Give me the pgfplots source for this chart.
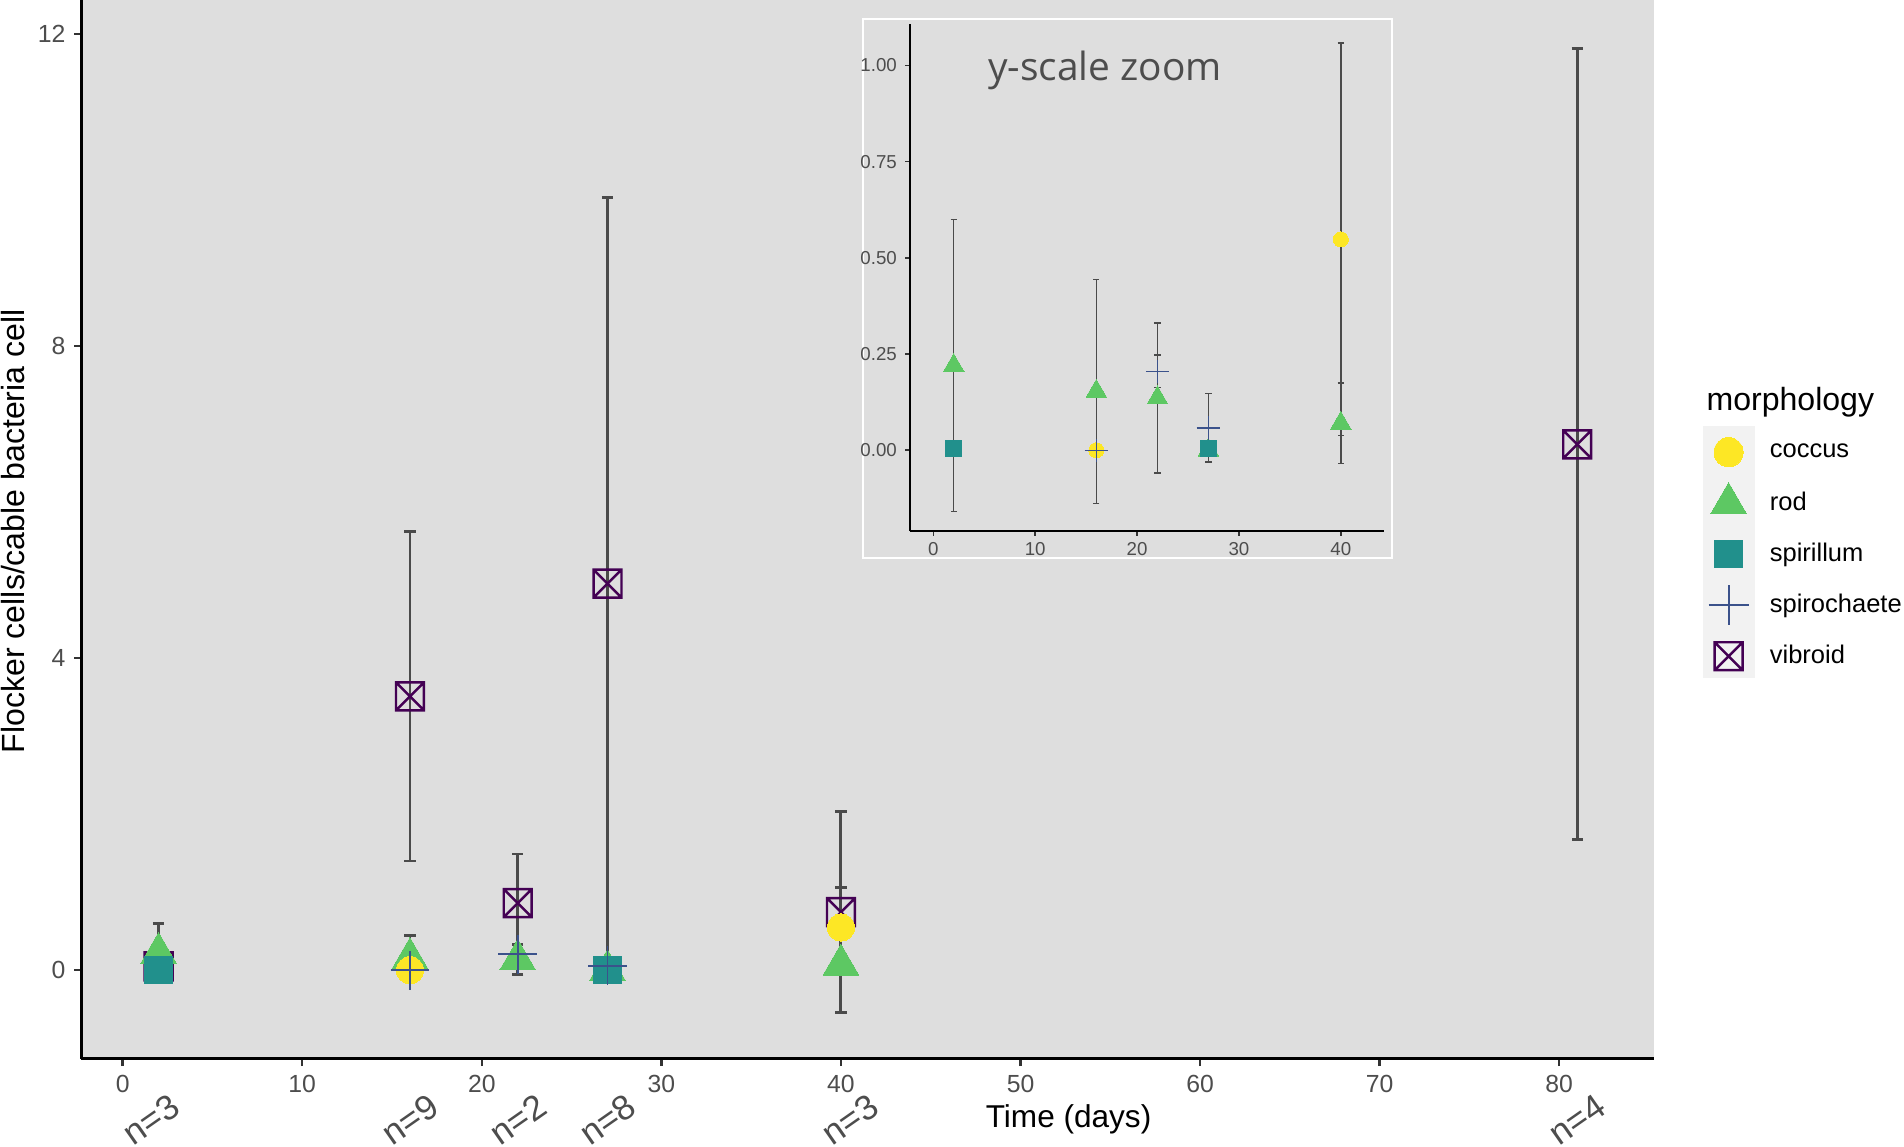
\documentclass[border=0pt]{standalone}
\usepackage{fontspec}
\setmainfont{Liberation Sans}
\newfontfamily\insetfont{Open Sans}
\usepackage{pgfplots}
\pgfplotsset{compat=1.18}
\usepackage{pgfplotstable}

\definecolor{panelgray}{HTML}{DEDEDE}
\definecolor{keygray}{HTML}{F2F2F2}
\definecolor{labgray}{HTML}{4D4D4D}
\definecolor{tickgray}{HTML}{333333}
\definecolor{errgray}{HTML}{4A4A4A}
\definecolor{ccoccus}{HTML}{FDE725}
\definecolor{crod}{HTML}{5DC863}
\definecolor{cspirillum}{HTML}{21908C}
\definecolor{cspiro}{HTML}{3B528B}
\definecolor{cvibrio}{HTML}{440154}

\pgfdeclareplotmark{boxx}{%
 \pgfpathrectangle{\pgfqpoint{-\pgfplotmarksize}{-\pgfplotmarksize}}{\pgfqpoint{2\pgfplotmarksize}{2\pgfplotmarksize}}%
 \pgfpathmoveto{\pgfqpoint{-\pgfplotmarksize}{-\pgfplotmarksize}}%
 \pgfpathlineto{\pgfqpoint{\pgfplotmarksize}{\pgfplotmarksize}}%
 \pgfpathmoveto{\pgfqpoint{-\pgfplotmarksize}{\pgfplotmarksize}}%
 \pgfpathlineto{\pgfqpoint{\pgfplotmarksize}{-\pgfplotmarksize}}%
 \pgfusepathqstroke}

\pgfplotstableread{
x y e
16 0.000 0.00
40 0.548 0.51
}\coccus
\pgfplotstableread{
x y e
2 0.220 0.380
16 0.153 0.291
22 0.136 0.195
27 0.000 0.000
40 0.070 0.105
}\rod
\pgfplotstableread{
x y e
2 0.005 0.000
27 0.005 0.017
}\spirillum
\pgfplotstableread{
x y e
16 0.000 0.000
22 0.205 0.042
27 0.058 0.089
}\spiro
\pgfplotstableread{
x y e
2 0.050 0.000
16 3.510 2.110
22 0.860 0.630
27 4.955 4.955
40 0.745 1.290
81 6.740 5.070
}\vibrio

\pgfplotsset{
  mainerr/.style={forget plot, draw=none, mark=none,
    error bars/.cd, y dir=both, y explicit,
    error bar style={draw=errgray, solid, line width=1.2pt},
    error mark options={draw=errgray, solid, line width=1.2pt, mark size=2.3pt, rotate=90}},
  inseterr/.style={forget plot, draw=none, mark=none,
    error bars/.cd, y dir=both, y explicit,
    error bar style={draw=errgray, solid, line width=0.6pt},
    error mark options={draw=errgray, solid, line width=0.6pt, mark size=1.3pt, rotate=90}},
  mcoccus/.style={only marks, mark=*, color=ccoccus, mark options={line width=0pt}},
  mrod/.style={only marks, mark=triangle*, color=crod, mark options={line width=0pt}},
  mspirillum/.style={only marks, mark=square*, color=cspirillum, mark options={line width=0pt}},
  mspiro/.style={only marks, mark=+, color=cspiro},
  mvibrio/.style={only marks, mark=boxx, color=cvibrio},
}
\tikzset{nlab/.style={rotate=35, font=\fontsize{14.4}{16}\selectfont, text=labgray}}

\begin{document}
\begin{tikzpicture}
\useasboundingbox (0,0) rectangle (784pt,472pt);
\begin{axis}[
  at={(33.5pt,36pt)}, anchor=south west,
  width=647.5pt, height=436pt, scale only axis,
  xmin=-2.3, xmax=85.27, ymin=-1.136, ymax=12.436,
  axis lines*=left,
  axis line style={black, line width=1.2pt},
  axis background/.style={fill=panelgray},
  xtick={0,10,...,80}, ytick={0,4,8,12},
  tick align=outside, major tick length=3pt,
  tick style={tickgray, line width=1pt},
  ticklabel style={font=\fontsize{10.2}{12}\selectfont, text=labgray},
  /pgf/number format/assume math mode=true,
  clip mode=individual,
  legend style={at={(axis description cs:1.0313,0.597)}, anchor=north west,
    draw=none, fill=none, inner sep=0pt, outer sep=0pt,
    font=\fontsize{10.5}{12}\selectfont, row sep=0pt, column sep=4.5pt},
  legend cell align=left,
  legend image code/.code={%
    \path[draw=none, fill=none] (0pt,-10.5pt) rectangle (21pt,10.5pt);
    \draw[mark repeat=2,mark phase=2] plot coordinates {(0pt,0pt) (10.5pt,0pt) (21pt,0pt)};},
]
\addplot[mainerr] table[x=x, y=y, y error=e] {\vibrio};
\addplot[mainerr] table[x=x, y=y, y error=e] {\rod};
\addplot[mainerr] table[x=x, y=y, y error=e] {\coccus};
\addplot[mainerr] table[x=x, y=y, y error=e] {\spirillum};
\addplot[mainerr] table[x=x, y=y, y error=e] {\spiro};

\addplot[mvibrio, forget plot, mark size=5.75pt, mark options={line width=1pt}] table[x=x,y=y] {\vibrio};
\addplot[mrod, forget plot, mark size=8.5pt] table[x=x,y=y] {\rod};
\addplot[mcoccus, forget plot, mark size=5.6pt] table[x=x,y=y] {\coccus};
\addplot[mspirillum, forget plot, mark size=5.6pt] table[x=x,y=y] {\spirillum};
\addplot[mspiro, forget plot, mark size=8pt, mark options={line width=0.8pt}] table[x=x,y=y] {\spiro};

\addlegendimage{mcoccus, mark size=6pt}
\addlegendentry{coccus}
\addlegendimage{mrod, mark size=8.5pt}
\addlegendentry{rod}
\addlegendimage{mspirillum, mark size=5.6pt}
\addlegendentry{spirillum}
\addlegendimage{mspiro, mark size=8.2pt, mark options={line width=0.8pt}}
\addlegendentry{spirochaete}
\addlegendimage{mvibrio, mark size=5.75pt, mark options={line width=1pt}}
\addlegendentry{vibroid}

\fill[keygray] (axis description cs:1.0313,0.3593) rectangle (axis description cs:1.0640,0.5976);
\node[anchor=west, inner sep=0pt, font=\fontsize{13.2}{15}\selectfont] at (axis description cs:1.0332,0.6204) {morphology};
\node[font=\fontsize{13}{15}\selectfont] at (axis description cs:0.6278,-0.0573) {Time (days)};
\node[rotate=90, font=\fontsize{13.2}{15}\selectfont] at (axis description cs:-0.04324,0.4983) {Flocker cells/cable bacteria cell};
\node[nlab] at ([yshift=-25pt]axis cs:1.6,-1.136) {n=3};
\node[nlab] at ([yshift=-25pt]axis cs:16,-1.136) {n=9};
\node[nlab] at ([yshift=-25pt]axis cs:22,-1.136) {n=2};
\node[nlab] at ([yshift=-25pt]axis cs:27,-1.136) {n=8};
\node[nlab] at ([yshift=-25pt]axis cs:40.5,-1.136) {n=3};
\node[nlab] at ([yshift=-25pt]axis cs:81,-1.136) {n=4};
\end{axis}

\draw[white, line width=0.75pt, fill=panelgray] (355.2pt,242.1pt) rectangle (573.25pt,464.2pt);

\begin{axis}[
  at={(374.8pt,253.35pt)}, anchor=south west,
  width=194.9pt, height=208.9pt, scale only axis,
  xmin=-2.27, xmax=44.2, ymin=-0.21, ymax=1.1086,
  axis lines*=left,
  axis line style={black, line width=0.75pt},
  xtick={0,10,20,30,40}, ytick={0,0.25,0.5,0.75,1},
  yticklabels={0.00,0.25,0.50,0.75,1.00},
  tick align=outside, major tick length=2pt,
  tick style={tickgray, line width=0.6pt},
  ticklabel style={font=\fontsize{7.7}{9}\selectfont, text=labgray},
  xticklabel style={yshift=1pt},
  /pgf/number format/assume math mode=true,
  clip mode=individual,
]
\addplot[inseterr] table[x=x, y=y, y error=e] {\rod};
\addplot[inseterr] table[x=x, y=y, y error=e] {\coccus};
\addplot[inseterr] table[x=x, y=y, y error=e] {\spirillum};
\addplot[inseterr] table[x=x, y=y, y error=e] {\spiro};
\addplot[mrod, mark size=4.9pt] table[x=x,y=y] {\rod};
\addplot[mcoccus, mark size=3.1pt] table[x=x,y=y] {\coccus};
\addplot[mspirillum, mark size=3.2pt] table[x=x,y=y] {\spirillum};
\addplot[mspiro, mark size=4.8pt, mark options={line width=0.5pt}] table[x=x,y=y] {\spiro};
\node[anchor=base, font=\insetfont\fontsize{16}{18}\selectfont, text=labgray] at (axis cs:16.85,0.96) {y-scale zoom};
\end{axis}
\end{tikzpicture}
\end{document}
